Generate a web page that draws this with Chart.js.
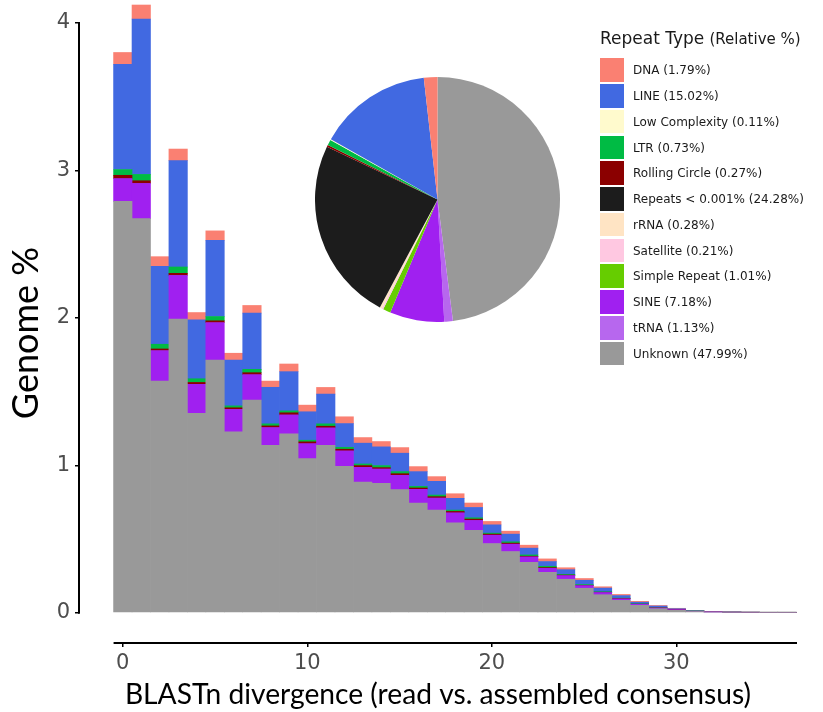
<!DOCTYPE html>
<html>
<head>
<meta charset="utf-8">
<script src="https://cdn.jsdelivr.net/npm/chart.js@4/dist/chart.umd.min.js"></script>
<style>
html,body{margin:0;padding:0;background:#fff;}
#wrap{position:relative;width:823px;height:712px;overflow:hidden;background:#fff;}
#bars{position:absolute;left:0;top:0;}
#pie{position:absolute;left:315px;top:77px;}
#legend{position:absolute;left:0;top:0;font-family:'DejaVu Sans',sans-serif;color:#1a1a1a;}
.lg-title{position:absolute;left:600px;top:30px;white-space:nowrap;line-height:17px;}
.lg-title .big{font-size:17px;}
.lg-title .small{font-size:15px;}
.lg-sw{position:absolute;left:600px;width:24px;height:23.5px;}
.lg-tx{position:absolute;left:633px;font-size:12px;line-height:24px;white-space:nowrap;}
</style>
</head>
<body>
<div id="wrap">
<canvas id="bars" width="823" height="712"></canvas>
<canvas id="pie" width="245" height="245"></canvas>
<div id="legend"></div>
</div>
<script>
// ---- Data ----
const divergence = [0,1,2,3,4,5,6,7,8,9,10,11,12,13,14,15,16,17,18,19,20,21,22,23,24,25,26,27,28,29,30,31,32,33,34,35,36];
const unknownVals = [2.79,2.673,1.571,1.991,1.352,1.714,1.227,1.442,1.136,1.213,1.045,1.136,0.993,0.886,0.878,0.835,0.744,0.696,0.61,0.558,0.469,0.415,0.342,0.274,0.227,0.166,0.122,0.084,0.05,0.027,0.016,0.008,0.004,0.003,0.003,0.002,0.002];
const sineVals = [0.155,0.239,0.207,0.297,0.197,0.254,0.152,0.173,0.12,0.129,0.102,0.118,0.105,0.1,0.097,0.097,0.093,0.082,0.068,0.068,0.057,0.05,0.037,0.027,0.025,0.018,0.015,0.01,0.007,0.005,0.005,0.002,0.003,0.001,0,0,0];
const rollingCircleVals = [0.022,0.018,0.011,0.014,0.013,0.012,0.011,0.013,0.011,0.014,0.012,0.011,0.011,0.012,0.009,0.011,0.009,0.009,0.009,0.009,0.007,0.007,0.004,0.005,0.003,0.002,0.002,0.002,0.001,0.001,0.001,0,0,0,0,0,0];
const ltrVals = [0.039,0.043,0.032,0.043,0.025,0.029,0.013,0.023,0.014,0.013,0.011,0.016,0.013,0.011,0.014,0.014,0.011,0.011,0.009,0.009,0.007,0.009,0.009,0.009,0.005,0.005,0.003,0.003,0.002,0.002,0.001,0.002,0,0,0,0,0];
const lineVals = [0.714,1.054,0.528,0.721,0.399,0.517,0.311,0.381,0.248,0.266,0.193,0.202,0.161,0.141,0.127,0.125,0.1,0.093,0.08,0.07,0.056,0.052,0.046,0.032,0.032,0.029,0.025,0.017,0.011,0.01,0.004,0.002,0.001,0.002,0.001,0,0];
const dnaVals = [0.08,0.095,0.066,0.079,0.05,0.064,0.046,0.052,0.042,0.052,0.045,0.045,0.046,0.038,0.036,0.038,0.034,0.032,0.031,0.03,0.023,0.02,0.02,0.018,0.013,0.012,0.009,0.008,0.006,0.004,0.003,0.002,0.001,0,0,0,0];

const repeatTypes = ['DNA','LINE','Low Complexity','LTR','Rolling Circle','Repeats < 0.001%','rRNA','Satellite','Simple Repeat','SINE','tRNA','Unknown'];
const relativePct = [1.79,15.02,0.11,0.73,0.27,24.28,0.28,0.21,1.01,7.18,1.13,47.99];
const typeColors = ['#FA8072','#4169E1','#FFFACD','#00BB44','#8B0000','#1C1C1C','#FFE4C4','#FFC8E1','#66CD00','#A020F0','#B767EE','#999999'];

const yTickValues = [0,1,2,3,4];
const xTickValues = [0,10,20,30];

// ---- Bar chart ----
function colorOf(name){ return typeColors[repeatTypes.indexOf(name)]; }
function series(label, vals){
  return {
    label: label,
    data: vals.map((v,i)=>({x: divergence[i], y: v})),
    backgroundColor: colorOf(label),
    borderWidth: 0,
    barPercentage: 1.0,
    categoryPercentage: 1.0,
    clip: false
  };
}
const barDatasets = [
  series('Unknown', unknownVals),
  series('SINE', sineVals),
  series('Rolling Circle', rollingCircleVals),
  series('LTR', ltrVals),
  series('LINE', lineVals),
  series('DNA', dnaVals)
];

const axisLines = {
  id: 'axisLines',
  afterDraw(chart){
    const {ctx, chartArea, scales:{x,y}} = chart;
    ctx.save();
    ctx.strokeStyle = '#000';
    ctx.lineWidth = 2;
    ctx.beginPath();
    ctx.moveTo(chartArea.left, y.getPixelForValue(4) - 1);
    ctx.lineTo(chartArea.left, y.getPixelForValue(0) + 1);
    ctx.stroke();
    ctx.beginPath();
    ctx.moveTo(x.getPixelForValue(-0.5), chartArea.bottom);
    ctx.lineTo(chartArea.right, chartArea.bottom);
    ctx.stroke();
    ctx.restore();
  }
};

new Chart(document.getElementById('bars'), {
  type: 'bar',
  data: { datasets: barDatasets },
  options: {
    responsive: false,
    animation: false,
    devicePixelRatio: 1,
    layout: { padding: { left: 0, top: 23, right: 26, bottom: 0 } },
    plugins: { legend: { display: false }, tooltip: { enabled: false } },
    scales: {
      x: {
        type: 'linear',
        stacked: true,
        offset: false,
        min: -2.374,
        max: 36.54,
        afterFit(s){ s.height = 69; },
        afterBuildTicks(s){ s.ticks = xTickValues.map(v=>({value:v})); },
        grid: { display: true, offset: false, drawOnChartArea: false, drawTicks: true, tickLength: 4, color: '#000', lineWidth: 1.5 },
        border: { display: false },
        ticks: { color: '#4D4D4D', font: { family: 'DejaVu Sans', size: 21 }, padding: 4, maxRotation: 0, autoSkip: false },
        title: { display: true, text: 'BLASTn divergence (read vs. assembled consensus)', color: '#000', font: { family: 'Lato', size: 28.2 }, padding: { top: 0, bottom: 0 } }
      },
      y: {
        type: 'linear',
        stacked: true,
        min: -0.2055,
        max: 4,
        afterFit(s){ s.width = 79; },
        afterBuildTicks(s){ s.ticks = yTickValues.map(v=>({value:v})); },
        grid: { display: true, drawOnChartArea: false, drawTicks: true, tickLength: 4, color: '#000', lineWidth: 1.5 },
        border: { display: false },
        ticks: { color: '#4D4D4D', font: { family: 'DejaVu Sans', size: 21 }, padding: 5 },
        title: { display: true, text: 'Genome %', color: '#000', font: { family: 'Lato', size: 36 }, padding: { top: 5, bottom: 0 } }
      }
    }
  },
  plugins: [axisLines]
});

// ---- Pie chart (clockwise from top: reverse legend order) ----
const pieLabels = repeatTypes.slice().reverse();
const pieValues = relativePct.slice().reverse();
const pieColors = typeColors.slice().reverse();
new Chart(document.getElementById('pie'), {
  type: 'pie',
  data: { labels: pieLabels, datasets: [{ data: pieValues, backgroundColor: pieColors, borderWidth: 0 }] },
  options: {
    responsive: false,
    animation: false,
    devicePixelRatio: 1,
    layout: { padding: 0 },
    plugins: { legend: { display: false }, tooltip: { enabled: false } }
  }
});

// ---- Legend ----
const lg = document.getElementById('legend');
const title = document.createElement('div');
title.className = 'lg-title';
title.innerHTML = '<span class="big">Repeat Type</span> <span class="small">(Relative %)</span>';
lg.appendChild(title);
repeatTypes.forEach((name,i)=>{
  const top = 58.3 + i*25.77;
  const sw = document.createElement('div');
  sw.className = 'lg-sw';
  sw.style.top = top + 'px';
  sw.style.background = typeColors[i];
  lg.appendChild(sw);
  const tx = document.createElement('div');
  tx.className = 'lg-tx';
  tx.style.top = top + 'px';
  tx.textContent = name + ' (' + relativePct[i].toFixed(2) + '%)';
  lg.appendChild(tx);
});
</script>
</body>
</html>
